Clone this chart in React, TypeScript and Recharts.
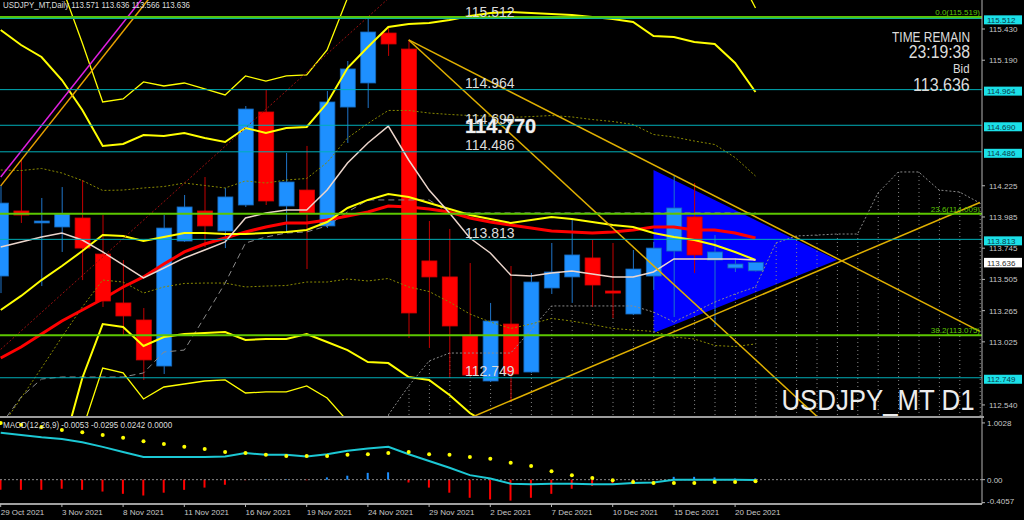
import React from 'react';
import { ComposedChart, Bar, Line, Area, XAxis, YAxis, ReferenceLine, Cell } from 'recharts';

const FONT = '"Liberation Sans", Arial, sans-serif';

// daily bars, index 0 = 29 Oct 2021 ... index 37 = 21 Dec 2021, 38..48 = future (cloud only)
const dateLabels = ['29 Oct 2021', '3 Nov 2021', '8 Nov 2021', '11 Nov 2021', '16 Nov 2021', '19 Nov 2021', '24 Nov 2021', '29 Nov 2021', '2 Dec 2021', '7 Dec 2021', '10 Dec 2021', '15 Dec 2021', '20 Dec 2021'];
const SLOTS = 49;

const opens = [113.531, 114.031, 113.939, 113.908, 113.977, 113.700, 113.324, 113.193, 112.839, 113.800, 114.031, 113.877, 114.077, 114.792, 114.069, 114.192, 113.916, 114.830, 115.015, 115.399, 115.276, 113.647, 113.524, 113.070, 112.724, 113.162, 112.793, 113.439, 113.524, 113.670, 113.416, 113.239, 113.531, 113.723, 113.985, 113.654, 113.593, 113.571];
const highs = [114.231, 114.423, 114.131, 114.215, 114.269, 114.000, 113.654, 113.285, 114.000, 114.154, 114.292, 114.208, 114.838, 114.961, 114.477, 114.531, 114.953, 115.184, 115.515, 115.438, 115.346, 113.954, 113.893, 113.631, 113.324, 113.608, 113.554, 113.785, 113.962, 113.808, 113.785, 113.731, 113.793, 114.300, 114.246, 113.846, 113.669, 113.636];
const lows = [113.400, 113.939, 113.454, 113.716, 113.500, 113.293, 113.078, 112.732, 112.778, 113.793, 113.754, 113.746, 114.062, 114.077, 113.870, 113.585, 113.900, 114.554, 114.823, 115.223, 113.055, 112.978, 112.747, 112.747, 112.716, 112.563, 112.786, 113.393, 113.324, 113.293, 113.208, 113.231, 113.424, 113.216, 113.554, 113.139, 113.562, 113.566];
const closes = [114.092, 114.000, 113.954, 114.008, 113.746, 113.339, 113.224, 112.886, 113.900, 114.062, 113.916, 114.139, 114.815, 114.108, 114.254, 114.016, 114.869, 115.123, 115.407, 115.315, 113.247, 113.524, 113.147, 112.770, 113.185, 112.778, 113.485, 113.562, 113.693, 113.462, 113.400, 113.585, 113.746, 114.054, 113.693, 113.716, 113.623, 113.636];

// bollinger (20) middle + bands at 1, 2 and 3 deviations
const bbMid = [113.270, 113.378, 113.500, 113.608, 113.723, 113.846, 113.839, 113.800, 113.831, 113.862, 113.862, 113.854, 113.854, 113.862, 113.870, 113.885, 113.946, 114.054, 114.116, 114.162, 114.139, 114.092, 114.046, 114.000, 113.969, 113.939, 113.962, 113.985, 113.969, 113.946, 113.923, 113.908, 113.862, 113.831, 113.808, 113.770, 113.716, 113.654];
const bbUp2 = [115.422, 115.307, 115.215, 115.038, 114.807, 114.531, 114.546, 114.615, 114.608, 114.631, 114.592, 114.561, 114.669, 114.631, 114.669, 114.677, 114.861, 115.130, 115.292, 115.445, 115.469, 115.476, 115.499, 115.530, 115.553, 115.561, 115.553, 115.545, 115.538, 115.522, 115.507, 115.484, 115.376, 115.369, 115.330, 115.315, 115.169, 114.946];
const bbLo2 = [111.117, 111.448, 111.786, 112.178, 112.747, 113.162, 113.139, 112.993, 113.062, 113.085, 113.093, 113.100, 113.039, 113.047, 113.047, 113.085, 113.024, 112.962, 112.870, 112.862, 112.755, 112.732, 112.616, 112.478, 112.386, 112.317, 112.363, 112.424, 112.401, 112.370, 112.332, 112.324, 112.347, 112.294, 112.286, 112.224, 112.263, 112.363];
const bbUp3 = [116.499, 116.272, 116.072, 115.753, 115.322, 114.869, 114.892, 115.023, 114.992, 115.015, 114.969, 114.923, 115.069, 115.030, 115.069, 115.077, 115.269, 115.668, 115.884, 116.084, 116.137, 116.168, 116.222, 116.299, 116.345, 116.376, 116.345, 116.322, 116.322, 116.306, 116.299, 116.268, 116.137, 116.137, 116.091, 116.091, 115.891, 115.592];
const bbLo3 = [110.041, 110.487, 110.933, 111.463, 112.347, 112.824, 112.786, 112.586, 112.678, 112.701, 112.724, 112.732, 112.632, 112.640, 112.640, 112.686, 112.593, 112.416, 112.247, 112.209, 112.063, 112.048, 111.901, 111.717, 111.594, 111.502, 111.563, 111.648, 111.617, 111.579, 111.532, 111.532, 111.586, 111.525, 111.525, 111.448, 111.532, 111.717];
const bbUp1 = [114.346, 114.342, 114.358, 114.323, 114.265, 114.189, 114.192, 114.208, 114.219, 114.246, 114.227, 114.208, 114.262, 114.246, 114.269, 114.281, 114.404, 114.592, 114.704, 114.804, 114.804, 114.784, 114.773, 114.765, 114.761, 114.750, 114.757, 114.765, 114.754, 114.734, 114.719, 114.696, 114.619, 114.600, 114.569, 114.542, 114.442, 114.300];
const bbLo1 = [112.363, 112.593, 112.824, 113.062, 113.293, 113.500, 113.485, 113.400, 113.447, 113.474, 113.477, 113.477, 113.447, 113.454, 113.458, 113.485, 113.485, 113.508, 113.493, 113.512, 113.447, 113.412, 113.331, 113.239, 113.178, 113.128, 113.162, 113.205, 113.185, 113.158, 113.128, 113.116, 113.105, 113.062, 113.047, 112.997, 112.989, 113.009];

const redMa = [112.901, 112.985, 113.085, 113.185, 113.270, 113.354, 113.447, 113.524, 113.623, 113.716, 113.777, 113.823, 113.870, 113.908, 113.939, 113.939, 113.962, 113.993, 114.023, 114.069, 114.062, 114.046, 114.023, 113.977, 113.946, 113.923, 113.900, 113.877, 113.870, 113.862, 113.870, 113.885, 113.908, 113.908, 113.885, 113.885, 113.862, 113.823];
const tenkan = [113.754, 113.793, 113.831, 113.862, 113.808, 113.716, 113.616, 113.516, 113.593, 113.670, 113.731, 113.793, 113.977, 114.016, 114.039, 114.039, 114.192, 114.400, 114.554, 114.684, 114.423, 114.192, 114.016, 113.823, 113.708, 113.539, 113.531, 113.554, 113.570, 113.547, 113.524, 113.524, 113.562, 113.662, 113.662, 113.662, 113.662, 113.654];
const kijun = [112.386, 112.601, 112.739, 112.755, 112.755, 112.755, 112.755, 112.786, 112.947, 112.962, 113.216, 113.477, 113.785, 113.831, 113.862, 113.870, 113.916, 114.023, 114.116, 114.116, 114.116, 114.116, 114.016, 114.016, 114.016, 114.016, 114.016, 114.016, 114.016, 114.016, 114.016, 114.016, 114.016, 114.016, 114.016, 114.016, 114.016, 114.016];

// senkou span A from bar 19 to bar 48 (span B sits below the window)
const spanAStart = 19;
const spanA = [112.463, 112.686, 112.878, 112.939, 112.939, 112.939, 112.939, 113.116, 113.301, 113.301, 113.301, 113.301, 113.301, 113.254, 113.178, 113.254, 113.331, 113.393, 113.447, 113.785, 113.839, 113.846, 113.854, 113.854, 114.169, 114.331, 114.331, 114.192, 114.177, 114.092];
const spanB = 112.2;

const macd = [0.83, 0.79, 0.75, 0.72, 0.66, 0.58, 0.49, 0.40, 0.40, 0.40, 0.40, 0.41, 0.47, 0.44, 0.44, 0.41, 0.45, 0.51, 0.55, 0.58, 0.45, 0.33, 0.21, 0.08, 0.02, -0.07, -0.08, -0.07, -0.07, -0.08, -0.08, -0.06, -0.05, 0.0, 0.0, 0.0, 0.0, -0.005];
const signal = [1.0, 0.97, 0.93, 0.88, 0.84, 0.79, 0.74, 0.68, 0.63, 0.58, 0.54, 0.49, 0.47, 0.44, 0.42, 0.42, 0.42, 0.44, 0.45, 0.47, 0.49, 0.45, 0.44, 0.40, 0.37, 0.30, 0.24, 0.15, 0.08, 0.03, -0.01, -0.04, -0.06, -0.06, -0.06, -0.04, -0.04, -0.03];
const hist = [-0.18, -0.18, -0.18, -0.16, -0.18, -0.21, -0.25, -0.28, -0.23, -0.18, -0.14, -0.09, -0.01, 0.01, 0.01, -0.01, 0.04, 0.07, 0.12, 0.13, -0.05, -0.14, -0.23, -0.32, -0.35, -0.37, -0.32, -0.25, -0.16, -0.11, -0.07, -0.02, 0.0, 0.05, 0.05, 0.04, 0.02, 0.024];

const levelPrices = [115.512, 114.964, 114.69, 114.486, 113.813, 112.749];
const fibLevels = [{ name: '0.0', price: 115.519 }, { name: '23.6', price: 114.009 }, { name: '38.2', price: 113.075 }];
const markerPrice = 114.77;
const bidPrice = 113.636;
// axis ticks that are not hidden behind the level boxes
const priceTicks = [115.43, 115.19, 114.225, 113.985, 113.745, 113.505, 113.265, 113.025, 112.54];

// triangle object: vertical left edge at bar 32, apex at bar 41
const triangle = { left: 32, top: 114.346, bottom: 113.093, apex: 41, apexPrice: 113.654 };

const trendLines = [
  { a: [20, 115.346], b: [48, 113.106], color: '#E0B000', w: 1.5, dash: undefined },
  { a: [20, 115.346], b: [41, 112.309], color: '#E0B000', w: 1.5, dash: undefined },
  { a: [23, 112.44], b: [48, 114.096], color: '#E0B000', w: 1.5, dash: undefined },
  { a: [0, 114.292], b: [8, 115.874], color: '#E020E0', w: 1.5, dash: undefined },
  { a: [0, 114.224], b: [8, 115.808], color: '#E8A000', w: 1.5, dash: undefined },
  { a: [0, 112.967], b: [19, 115.664], color: '#9a1010', w: 1, dash: '2 2' },
];

const rows = Array.from({ length: SLOTS }, (_, i) => ({
  i,
  o: opens[i] ?? null,
  h: highs[i] ?? null,
  l: lows[i] ?? null,
  c: closes[i] ?? null,
  mid: bbMid[i] ?? null,
  up1: bbUp1[i] ?? null,
  lo1: bbLo1[i] ?? null,
  up2: bbUp2[i] ?? null,
  lo2: bbLo2[i] ?? null,
  up3: bbUp3[i] ?? null,
  lo3: bbLo3[i] ?? null,
  red: redMa[i] ?? null,
  tenkan: tenkan[i] ?? null,
  kijun: kijun[i] ?? null,
  spanA: i >= spanAStart ? spanA[i - spanAStart] : null,
  tri: i === triangle.left ? [triangle.bottom, triangle.top] : i === triangle.apex ? [triangle.apexPrice, triangle.apexPrice] : null,
  macd: macd[i] ?? null,
  signal: signal[i] ?? null,
  hist: hist[i] ?? null,
}));

const Candle = (props: any) => {
  const { x, y, width, height, payload } = props;
  if (!payload || payload.o == null || height == null || isNaN(y)) return <g />;
  const { o, h, l, c } = payload;
  const span = h - l;
  const toY = (v: number) => (span > 0 ? y + ((h - v) / span) * height : y);
  const up = c >= o;
  const top = toY(Math.max(o, c));
  const bottom = toY(Math.min(o, c));
  const cx = x + width / 2;
  return (
    <g>
      <line x1={cx} x2={cx} y1={y} y2={y + height} stroke={up ? '#1f74c8' : '#c40000'} strokeWidth={1} />
      <rect x={x} y={top} width={width} height={Math.max(bottom - top, 1.5)} fill={up ? '#1E90FF' : '#FF0000'} stroke={up ? '#1565b4' : '#d40000'} strokeWidth={0.8} />
    </g>
  );
};

const Hatch = (props: any) => {
  const { x, y, width, height } = props;
  if (height == null || isNaN(y)) return <g />;
  const cx = x + width / 2;
  return <line x1={cx} x2={cx} y1={y} y2={y + height} stroke="#8a8a8a" strokeWidth={1} strokeDasharray="1 3" />;
};

const PriceTick = ({ x, y, payload }: any) => (
  <g>
    <line x1={x} x2={x + 3} y1={y} y2={y} stroke="#b4b4b4" />
    <text x={x + 7} y={y + 3} fill="#c8c8c8" fontSize={8} fontFamily={FONT}>{Number(payload.value).toFixed(3)}</text>
  </g>
);

const MacdTick = ({ x, y, payload }: any) => {
  const v = Number(payload.value);
  const text = v === 0 ? '0.00' : String(v);
  return (
    <g>
      <line x1={x} x2={x + 3} y1={y} y2={y} stroke="#b4b4b4" />
      <text x={x + 5} y={y + 3 - (v < 0 ? 2 : 0)} fill="#c8c8c8" fontSize={8} fontFamily={FONT}>{text}</text>
    </g>
  );
};

const DateTick = ({ x, y, payload }: any) => {
  const i = Number(payload.value);
  if (i % 3 !== 0 || i > 36) return <g />;
  return (
    <g>
      <line x1={x} x2={x} y1={y} y2={y + 3} stroke="#b4b4b4" />
      <text x={x} y={y + 11} fill="#c8c8c8" fontSize={8} fontFamily={FONT}>{dateLabels[i / 3]}</text>
    </g>
  );
};

const levelLabel = (price: number) => (props: any) => {
  const { x, y, width } = props.viewBox;
  const right = x + width;
  const text = price.toFixed(3);
  return (
    <g>
      <text x={x + 465} y={y - 1.5} fill="#dcdcdc" fontSize={14} fontFamily={FONT}>{text}</text>
      <rect x={right + 2} y={y - 3} width={38} height={9} fill="#1BE0E8" />
      <text x={right + 5} y={y + 4.5} fill="#0b3b4b" fontSize={8} fontFamily={FONT}>{text}</text>
    </g>
  );
};

const fibLabel = (name: string, price: number) => (props: any) => {
  const { x, y, width } = props.viewBox;
  return (
    <text x={x + width - 2} y={y - 2} textAnchor="end" fill="#5CC600" fontSize={8} fontFamily={FONT}>{`${name}(${price.toFixed(3)})`}</text>
  );
};

const markerLabel = (props: any) => {
  const { x, y } = props.viewBox;
  return (
    <text x={x + 465} y={y + 18} fill="#f0f0f0" stroke="#707070" strokeWidth={0.6} paintOrder="stroke" fontSize={20} fontWeight="bold" fontFamily={FONT}>{markerPrice.toFixed(3)}</text>
  );
};

const bidLabel = (props: any) => {
  const { x, y, width } = props.viewBox;
  const right = x + width;
  return (
    <g>
      <rect x={right + 2} y={y - 4.5} width={38} height={9.5} fill="#ffffff" />
      <text x={right + 5} y={y + 3.5} fill="#303030" fontSize={8} fontFamily={FONT}>{bidPrice.toFixed(3)}</text>
    </g>
  );
};

const xPad = { left: -9.5, right: -8.1 };

const Txt = ({ left, right, top, size, scale = 1, children, color = '#dcdcdc' }: any) => (
  <div
    style={{
      position: 'absolute',
      left,
      right,
      top,
      fontSize: size,
      lineHeight: 1,
      color,
      whiteSpace: 'nowrap',
      fontFamily: FONT,
      transform: `scaleX(${scale})`,
      transformOrigin: right != null ? 'right top' : 'left top',
      pointerEvents: 'none',
    }}
  >
    {children}
  </div>
);

export default function App() {
  return (
    <div style={{ position: 'fixed', left: 0, top: 0, width: 1024, height: 520, background: '#000', overflow: 'hidden' }}>
      <div style={{ position: 'absolute', left: 0, top: 0 }}>
        <ComposedChart width={1024} height={416} data={rows} margin={{ top: 0, right: 0, bottom: 0, left: 0 }}>
          <XAxis dataKey="i" hide padding={xPad} />
          <XAxis xAxisId="h" dataKey="i" hide padding={xPad} />
          <YAxis
            orientation="right"
            width={42}
            domain={[112.455, 115.653]}
            allowDataOverflow
            ticks={priceTicks}
            interval={0}
            tick={PriceTick}
            tickLine={false}
            tickSize={0}
            tickMargin={0}
            axisLine={{ stroke: '#b4b4b4' }}
          />

          <Area dataKey={(r: any) => r.tri} type="linear" connectNulls stroke="none" fill="#0000FF" fillOpacity={1} dot={false} activeDot={false} isAnimationActive={false} />
          <Bar xAxisId="h" dataKey={(r: any) => (r.spanA == null ? null : [spanB, r.spanA])} barSize={1} shape={Hatch} isAnimationActive={false} />
          <Line dataKey="spanA" stroke="#8a8a8a" strokeWidth={1} strokeDasharray="2 2" dot={false} activeDot={false} isAnimationActive={false} />
          <Line dataKey="kijun" stroke="#8a8a8a" strokeWidth={1} strokeDasharray="6 4" dot={false} activeDot={false} isAnimationActive={false} />
          <Line dataKey="up1" stroke="#8a8a00" strokeWidth={1} strokeDasharray="2 2" dot={false} activeDot={false} isAnimationActive={false} />
          <Line dataKey="lo1" stroke="#8a8a00" strokeWidth={1} strokeDasharray="2 2" dot={false} activeDot={false} isAnimationActive={false} />

          <Bar dataKey={(r: any) => (r.o == null ? null : [r.l, r.h])} barSize={15} shape={Candle} isAnimationActive={false} />

          <Line dataKey="up3" stroke="#FFFF00" strokeWidth={1.3} dot={false} activeDot={false} isAnimationActive={false} />
          <Line dataKey="lo3" stroke="#FFFF00" strokeWidth={1.3} dot={false} activeDot={false} isAnimationActive={false} />
          <Line dataKey="up2" stroke="#FFFF00" strokeWidth={2} dot={false} activeDot={false} isAnimationActive={false} />
          <Line dataKey="lo2" stroke="#FFFF00" strokeWidth={2} dot={false} activeDot={false} isAnimationActive={false} />
          <Line dataKey="red" stroke="#FF0000" strokeWidth={3} dot={false} activeDot={false} isAnimationActive={false} />
          <Line dataKey="mid" stroke="#FFFF00" strokeWidth={2} dot={false} activeDot={false} isAnimationActive={false} />
          <Line dataKey="tenkan" stroke="#ecd6cc" strokeWidth={1.5} dot={false} activeDot={false} isAnimationActive={false} />

          {trendLines.map((t, k) => (
            <ReferenceLine
              key={`t${k}`}
              segment={[{ x: t.a[0], y: t.a[1] }, { x: t.b[0], y: t.b[1] }]}
              stroke={t.color}
              strokeWidth={t.w}
              strokeDasharray={t.dash}
              ifOverflow="hidden"
            />
          ))}
          {fibLevels.map((f, k) => (
            <ReferenceLine key={`f${k}`} y={f.price} stroke="#5CC600" strokeWidth={k === 0 ? 3 : 2} label={fibLabel(f.name, f.price)} />
          ))}
          {levelPrices.map((p) => (
            <ReferenceLine key={`l${p}`} y={p} stroke="#00AEB8" strokeWidth={1} label={levelLabel(p)} />
          ))}
          <ReferenceLine y={markerPrice} stroke="none" strokeOpacity={0} label={markerLabel} />
          <ReferenceLine y={bidPrice} stroke="none" strokeOpacity={0} label={bidLabel} />
        </ComposedChart>
      </div>

      <div style={{ position: 'absolute', left: 0, top: 416, width: 984, height: 2, background: '#9c9c9c' }} />

      <div style={{ position: 'absolute', left: 0, top: 418 }}>
        <ComposedChart width={1024} height={102} data={rows} margin={{ top: 0, right: 0, bottom: 0, left: 0 }}>
          <XAxis
            dataKey="i"
            padding={xPad}
            height={16}
            interval={0}
            tickLine={false}
            tickSize={0}
            tickMargin={0}
            axisLine={{ stroke: '#a0a0a0', strokeWidth: 2 }}
            tick={DateTick}
          />
          <YAxis
            orientation="right"
            width={42}
            domain={[-0.43, 1.09]}
            allowDataOverflow
            ticks={[1.0028, 0, -0.4057]}
            interval={0}
            tick={MacdTick}
            tickLine={false}
            tickSize={0}
            tickMargin={0}
            axisLine={{ stroke: '#b4b4b4' }}
          />
          <ReferenceLine y={0} stroke="#8a8a8a" strokeDasharray="2 2" />
          <Bar dataKey="hist" barSize={2} isAnimationActive={false}>
            {rows.map((r) => (
              <Cell key={r.i} fill={(r.hist ?? 0) >= 0 ? '#1E90FF' : '#FF0000'} />
            ))}
          </Bar>
          <Line dataKey="macd" stroke="#1CC8D4" strokeWidth={2} dot={false} activeDot={false} isAnimationActive={false} />
          <Line dataKey="signal" stroke="none" dot={{ r: 2, fill: '#FFFF00', stroke: 'none' }} activeDot={false} isAnimationActive={false} />
        </ComposedChart>
      </div>

      <Txt left={3} top={1} size={9} scale={0.88}>USDJPY_MT,Daily 113.571 113.636 113.566 113.636</Txt>
      <Txt left={3} top={421} size={8.5} scale={0.95}>MACD(12,26,9) -0.0053 -0.0295 0.0242 0.0000</Txt>
      <Txt right={54} top={29.5} size={14.5} scale={0.82}>TIME REMAIN</Txt>
      <Txt right={54} top={44} size={17.5} scale={0.9}>23:19:38</Txt>
      <Txt right={54} top={61.5} size={13.5} scale={0.85}>Bid</Txt>
      <Txt right={54} top={75.5} size={18} scale={0.89}>113.636</Txt>
      <Txt right={49} top={385} size={30} scale={0.86} color="#ececec">USDJPY_MT D1</Txt>
    </div>
  );
}
